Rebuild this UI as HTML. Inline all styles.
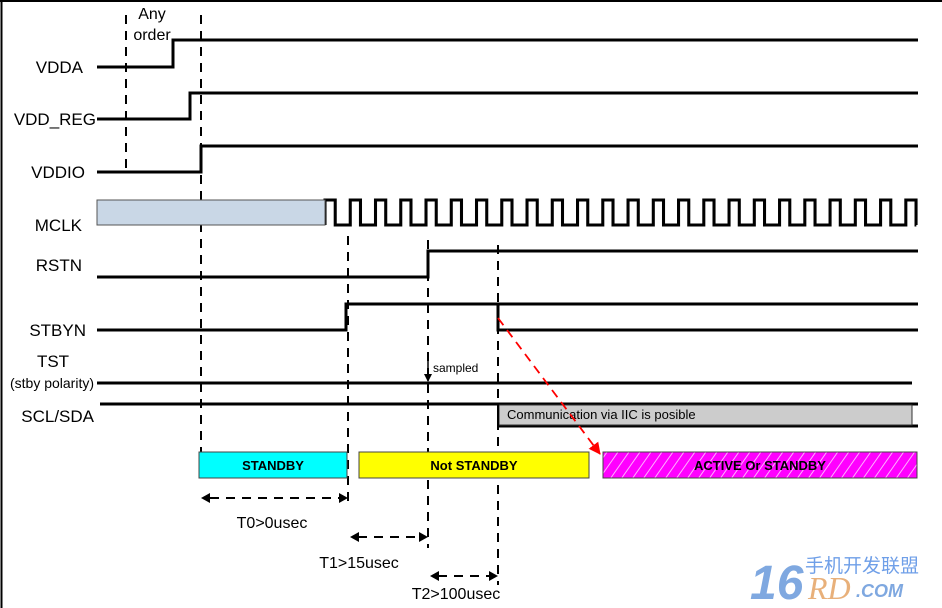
<!DOCTYPE html>
<html><head><meta charset="utf-8"><style>
html,body{margin:0;padding:0;background:#fff;}
svg{display:block;font-family:"Liberation Sans",Arial,sans-serif;}
</style></head><body>
<svg width="942" height="608" viewBox="0 0 942 608" xmlns="http://www.w3.org/2000/svg">
<defs>
<pattern id="hatch" width="9" height="9" patternUnits="userSpaceOnUse" patternTransform="rotate(35)">
<rect width="9" height="9" fill="#ff00ff"/><line x1="0" y1="0" x2="0" y2="9" stroke="#ffb0ff" stroke-width="2"/>
</pattern>
<marker id="ah" markerWidth="8" markerHeight="8" refX="7" refY="4" orient="auto" markerUnits="userSpaceOnUse"><path d="M0,0 L8,4 L0,8 z" fill="#000"/></marker>
<marker id="ar" markerWidth="12" markerHeight="12" refX="11" refY="6" orient="auto" markerUnits="userSpaceOnUse"><path d="M0,0 L12,6 L0,12 z" fill="#f00"/></marker>
</defs>
<rect width="942" height="608" fill="#fff"/>
<line x1="1.5" y1="0" x2="1.5" y2="608" stroke="#000" stroke-width="2"/>
<line x1="0" y1="1" x2="942" y2="1" stroke="#000" stroke-width="2"/>

<g stroke="#000" stroke-width="2" stroke-dasharray="9,7" fill="none">
<line x1="126" y1="15" x2="126" y2="175"/>
<line x1="201" y1="15" x2="201" y2="472"/>
<line x1="348" y1="236" x2="348" y2="506"/>
<line x1="428" y1="240" x2="428" y2="548"/>
<line x1="498" y1="245" x2="498" y2="585"/>
</g>

<g stroke="#000" stroke-width="3" fill="none">
<path d="M97 67 H173 V40 H918"/>
<path d="M97 119 H190 V93 H918"/>
<path d="M97 172 H201 V146 H918"/>
<path d="M97 277 H428 V251 H918"/>
<path d="M97 330 H346 V304 H918"/>
<path d="M498 304 V330 H918"/>
<line x1="97" y1="383" x2="912" y2="383"/>
<line x1="100" y1="404" x2="918" y2="404"/>
<line x1="498" y1="426" x2="918" y2="426"/>
<g transform="translate(325 0) scale(1.0224 1) translate(-325 0)">
<path d="M325 225 V200 h10 v25 h14.7 v-25 h10 v25 h14.7 v-25 h10 v25 h14.7 v-25 h10 v25 h14.7 v-25 h10 v25 h14.7 v-25 h10 v25 h14.7 v-25 h10 v25 h14.7 v-25 h10 v25 h14.7 v-25 h10 v25 h14.7 v-25 h10 v25 h14.7 v-25 h10 v25 h14.7 v-25 h10 v25 h14.7 v-25 h10 v25 h14.7 v-25 h10 v25 h14.7 v-25 h10 v25 h14.7 v-25 h10 v25 h14.7 v-25 h10 v25 h14.7 v-25 h10 v25 h14.7 v-25 h10 v25 h14.7 v-25 h10 v25 h14.7 v-25 h10 v25 h14.7 v-25 h10 v25 h14.7 v-25 h10 v25 h14.7 v-25 h10 v25 h0.3"/>
</g>
</g>
<rect x="97" y="200" width="228" height="25" fill="#c9d7e6" stroke="#555" stroke-width="1"/>
<rect x="499" y="405" width="413" height="20" fill="#cccccc" stroke="#333" stroke-width="1"/>
<line x1="498" y1="404" x2="498" y2="426" stroke="#000" stroke-width="2"/>

<g font-size="17" fill="#000" text-anchor="end">
<text x="83" y="73">VDDA</text>
<text x="96" y="125">VDD_REG</text>
<text x="85" y="178">VDDIO</text>
<text x="82" y="231">MCLK</text>
<text x="82" y="271">RSTN</text>
<text x="86" y="336">STBYN</text>
<text x="94" y="422">SCL/SDA</text>
</g>
<text x="53" y="367" font-size="17" text-anchor="middle">TST</text>
<text x="52" y="388" font-size="14" text-anchor="middle">(stby polarity)</text>
<text x="152" y="19" font-size="16" text-anchor="middle">Any</text>
<text x="152" y="40" font-size="16" text-anchor="middle">order</text>

<line x1="428" y1="358" x2="428" y2="381" stroke="#000" stroke-width="1.5" marker-end="url(#ah)"/>
<text x="433" y="372" font-size="12">sampled</text>
<text x="507" y="419" font-size="13">Communication via IIC is posible</text>

<rect x="199" y="452" width="148" height="26" fill="#00ffff" stroke="#444" stroke-width="1"/>
<rect x="359" y="452" width="230" height="26" fill="#ffff00" stroke="#444" stroke-width="1"/>
<rect x="603" y="452" width="314" height="26" fill="url(#hatch)" stroke="#444" stroke-width="1"/>
<g font-size="13" font-weight="bold" text-anchor="middle">
<text x="273" y="470">STANDBY</text>
<text x="474" y="470">Not STANDBY</text>
<text x="760" y="470">ACTIVE Or STANDBY</text>
</g>
<line x1="498" y1="318" x2="600" y2="454" stroke="#f00" stroke-width="1.8" stroke-dasharray="9,6" marker-end="url(#ar)"/>

<g stroke="#000" stroke-width="2" stroke-dasharray="9,7" fill="none">
<line x1="210" y1="498" x2="340" y2="498"/>
<line x1="358" y1="537" x2="420" y2="537"/>
<line x1="438" y1="576" x2="490" y2="576"/>
</g>
<g fill="#000">
<path d="M201 498 l9 -5 v10 z"/><path d="M348 498 l-9 -5 v10 z"/>
<path d="M350 537 l9 -5 v10 z"/><path d="M428 537 l-9 -5 v10 z"/>
<path d="M430 576 l9 -5 v10 z"/><path d="M498 576 l-9 -5 v10 z"/>
</g>
<g font-size="16" text-anchor="middle">
<text x="272" y="528">T0&gt;0usec</text>
<text x="359" y="568">T1&gt;15usec</text>
<text x="456" y="599">T2&gt;100usec</text>
</g>

<text x="750" y="599" font-size="48" font-weight="bold" font-style="italic" fill="#7fa8e0">16</text>
<text x="805" y="572" font-size="19" fill="#6f9fe8" font-family="'Noto Sans CJK SC',sans-serif">手机开发联盟</text>
<text x="808" y="599" font-size="32" font-style="italic" font-family="'Liberation Serif',serif" fill="#e8b07a">RD</text>
<text x="856" y="597" font-size="18" font-weight="bold" font-style="italic" fill="#7fa8e0">.COM</text>
</svg>
</body></html>
